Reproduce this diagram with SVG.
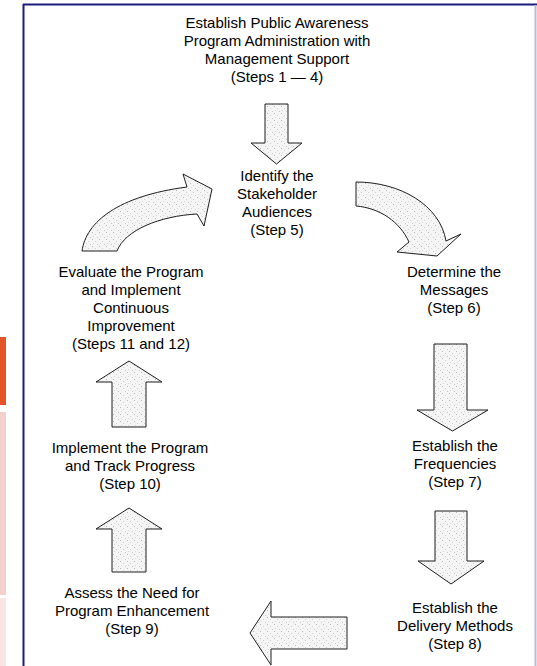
<svg xmlns="http://www.w3.org/2000/svg" width="537" height="666" viewBox="0 0 537 666">
<style>
text{font-family:"Liberation Sans",Arial,sans-serif;font-size:15px;fill:#000;text-anchor:middle}
.arr{fill:url(#stip);stroke:#1e1e1e;stroke-width:1;stroke-linejoin:miter}
</style>
<defs>
<pattern id="stip" width="7" height="7" patternUnits="userSpaceOnUse">
<rect width="7" height="7" fill="#f5f5f5"/>
<rect x="1" y="1" width="1" height="1" fill="#b8b8b8"/>
<rect x="4" y="3" width="1" height="1" fill="#d0d0d0"/>
<rect x="2" y="5" width="1" height="1" fill="#d8d8d8"/>
<rect x="6" y="6" width="1" height="1" fill="#c8c8c8"/>
</pattern>
</defs>
<rect width="537" height="666" fill="#ffffff"/>
<g id="page-decor">
<rect x="0" y="337" width="6" height="68" fill="#e2552a"/>
<rect x="0" y="412" width="6" height="183" fill="#f3d0cb"/>
<rect x="0" y="598" width="6" height="68" fill="#f9e5e3"/>
<line x1="23.5" y1="4" x2="23.5" y2="666" stroke="#1c1c7c" stroke-width="2"/>
<line x1="23" y1="4.5" x2="537" y2="4.5" stroke="#1c1c7c" stroke-width="2"/>
<line x1="535.5" y1="5" x2="535.5" y2="666" stroke="#b9b9d9" stroke-width="2"/>
</g>
<g id="connectors">
<path class="arr" d="M265,104 H288 V143 H302 L276.5,164 L251,143 H265 Z"/>
<path class="arr" d="M356,182 C400,182 440,205 446,241 L461,234 L437,256 L397,252 L409,242 C400,222 380,208 356,206 Z"/>
<path class="arr" d="M434,344 H467 V410 H488 L452.5,431 L417,410 H434 Z"/>
<path class="arr" d="M435,511 H467 V561 H484 L451,584 L418,561 H435 Z"/>
<path class="arr" d="M347,617 V649 H271 V665 L250,633 L271,601 V617 Z"/>
<path class="arr" d="M112,572 V529 H96 L129,508 L162,529 H146 V572 Z"/>
<path class="arr" d="M112,427 V382 H96 L129,361 L162,382 H146 V427 Z"/>
<path class="arr" d="M82,251 C86,222 118,196 187,187 L183,174 L212,189 L204,226 L197,214 C160,216 125,230 117,251 Z"/>
</g>
<g id="n-admin">
<text x="277" y="28">Establish Public Awareness</text>
<text x="277" y="46">Program Administration with</text>
<text x="277" y="64">Management Support</text>
<text x="277" y="82">(Steps 1 — 4)</text>
</g>
<g id="n-audiences">
<text x="277" y="181">Identify the</text>
<text x="277" y="199">Stakeholder</text>
<text x="277" y="217">Audiences</text>
<text x="277" y="235">(Step 5)</text>
</g>
<g id="n-messages">
<text x="454" y="277">Determine the</text>
<text x="454" y="295">Messages</text>
<text x="454" y="313">(Step 6)</text>
</g>
<g id="n-frequencies">
<text x="455" y="451">Establish the</text>
<text x="455" y="469">Frequencies</text>
<text x="455" y="487">(Step 7)</text>
</g>
<g id="n-delivery">
<text x="455" y="613">Establish the</text>
<text x="455" y="631">Delivery Methods</text>
<text x="455" y="649">(Step 8)</text>
</g>
<g id="n-assess">
<text x="132" y="598">Assess the Need for</text>
<text x="132" y="616">Program Enhancement</text>
<text x="132" y="634">(Step 9)</text>
</g>
<g id="n-implement">
<text x="130" y="453">Implement the Program</text>
<text x="130" y="471">and Track Progress</text>
<text x="130" y="489">(Step 10)</text>
</g>
<g id="n-evaluate">
<text x="131" y="277">Evaluate the Program</text>
<text x="131" y="295">and Implement</text>
<text x="131" y="313">Continuous</text>
<text x="131" y="331">Improvement</text>
<text x="131" y="349">(Steps 11 and 12)</text>
</g>
</svg>
